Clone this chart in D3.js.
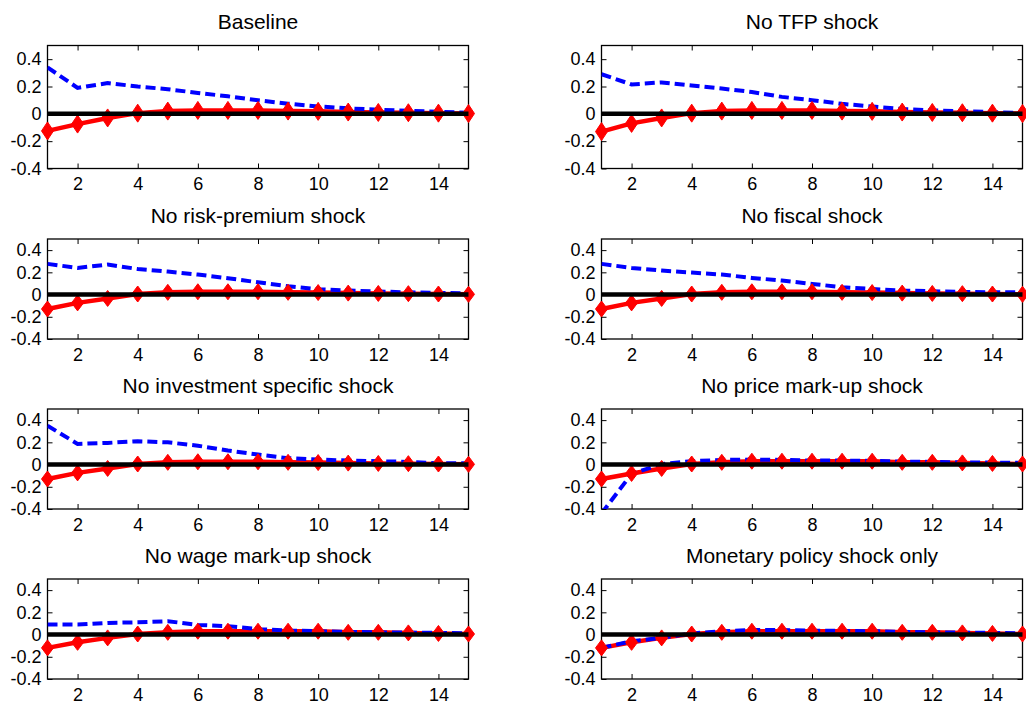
<!DOCTYPE html>
<html>
<head>
<meta charset="utf-8">
<script src="https://cdn.jsdelivr.net/npm/d3@7"></script>
<style>
  html, body { margin: 0; padding: 0; background: #fff; }
  svg { display: block; }
</style>
</head>
<body>
<svg id="chart" width="1026" height="706"></svg>
<script>
// ---------- data ----------
const periods = [1,2,3,4,5,6,7,8,9,10,11,12,13,14,15];
const xTicks = [2,4,6,8,10,12,14];
const yTicks = [-0.4,-0.2,0,0.2,0.4];
const titles = [
  "Baseline", "No TFP shock",
  "No risk-premium shock", "No fiscal shock",
  "No investment specific shock", "No price mark-up shock",
  "No wage mark-up shock", "Monetary policy shock only"
];

// red (solid, diamonds)
const redBaseline   = [-0.125,-0.075,-0.03,0.005,0.02,0.025,0.025,0.025,0.02,0.018,0.013,0.01,0.008,0.005,0.002];
const redNoTFP      = [-0.13,-0.07,-0.03,0.005,0.02,0.025,0.025,0.025,0.02,0.018,0.013,0.01,0.008,0.005,0.002];
const redNoRisk     = [-0.13,-0.075,-0.035,0.005,0.02,0.025,0.025,0.025,0.02,0.018,0.013,0.01,0.008,0.005,0.002];
const redNoFiscal   = [-0.13,-0.075,-0.035,0.005,0.02,0.025,0.025,0.025,0.02,0.018,0.013,0.01,0.008,0.005,0.002];
const redNoInvest   = [-0.13,-0.075,-0.035,0.005,0.02,0.025,0.025,0.025,0.02,0.018,0.013,0.01,0.008,0.005,0.002];
const redNoPrice    = [-0.13,-0.08,-0.035,0.005,0.02,0.03,0.03,0.03,0.03,0.03,0.02,0.02,0.015,0.01,0.005];
const redNoWage     = [-0.12,-0.07,-0.03,0.005,0.02,0.03,0.03,0.03,0.03,0.03,0.02,0.02,0.015,0.01,0.005];
const redMonetary   = [-0.12,-0.07,-0.03,0.005,0.02,0.03,0.03,0.03,0.03,0.03,0.02,0.02,0.015,0.01,0.005];

// blue (dashed)
const blueBaseline  = [0.34,0.19,0.225,0.2,0.18,0.153,0.128,0.099,0.074,0.054,0.04,0.03,0.022,0.015,0.008];
const blueNoTFP     = [0.29,0.215,0.23,0.207,0.185,0.16,0.124,0.1,0.073,0.054,0.035,0.025,0.02,0.012,0.006];
const blueNoRisk    = [0.276,0.24,0.27,0.23,0.207,0.18,0.147,0.11,0.075,0.048,0.036,0.027,0.02,0.015,0.012];
const blueNoFiscal  = [0.276,0.24,0.216,0.198,0.18,0.15,0.126,0.096,0.066,0.05,0.036,0.03,0.024,0.02,0.02];
const blueNoInvest  = [0.35,0.186,0.195,0.21,0.2,0.17,0.126,0.09,0.057,0.045,0.036,0.03,0.024,0.012,0.012];
const blueNoPrice   = [-0.44,-0.084,0.005,0.03,0.042,0.045,0.042,0.036,0.036,0.033,0.027,0.024,0.02,0.018,0.015];
const blueNoWage    = [0.09,0.09,0.105,0.11,0.12,0.087,0.075,0.05,0.036,0.03,0.024,0.02,0.018,0.015,0.012];
const blueMonetary  = [-0.12,-0.06,-0.03,0.01,0.03,0.04,0.04,0.035,0.033,0.03,0.025,0.02,0.018,0.015,0.012];

const redSeries  = [redBaseline, redNoTFP, redNoRisk, redNoFiscal, redNoInvest, redNoPrice, redNoWage, redMonetary];
const blueSeries = [blueBaseline, blueNoTFP, blueNoRisk, blueNoFiscal, blueNoInvest, blueNoPrice, blueNoWage, blueMonetary];

// ---------- layout ----------
const colX = [[47.5, 468.5], [601.5, 1022.5]];
const rowY = [[45.5, 168.5], [239, 339], [409, 509], [579, 679]];

const svg = d3.select("#chart");
const tickFont = "'Liberation Sans', Arial, sans-serif";
const titleFont = "'Liberation Sans', Arial, sans-serif";

titles.forEach((title, i) => {
  const col = i % 2, row = Math.floor(i / 2);
  const [x0, x1] = colX[col];
  const [y0, y1] = rowY[row];

  const x = d3.scaleLinear().domain([1, 15]).range([x0, x1]);
  const y = d3.scaleLinear().domain([-0.4, 0.5]).range([y1, y0]);

  const g = svg.append("g");
  const clipId = "clip" + i;
  g.append("clipPath").attr("id", clipId)
    .append("rect").attr("x", x0).attr("y", y0).attr("width", x1 - x0).attr("height", y1 - y0);

  // title
  g.append("text")
    .attr("x", (x0 + x1) / 2).attr("y", y0 - 16.5)
    .attr("text-anchor", "middle")
    .style("font-family", titleFont).style("font-size", "21px").attr("fill", "#000")
    .text(title);

  // axes (box with inward ticks)
  const tl = 5;
  const bottom = g.append("g").attr("transform", `translate(0,${y1})`)
    .call(d3.axisBottom(x).tickValues(xTicks).tickSizeInner(-tl).tickSizeOuter(0).tickPadding(9).tickFormat(d3.format("d")));
  const top = g.append("g").attr("transform", `translate(0,${y0})`)
    .call(d3.axisTop(x).tickValues(xTicks).tickSizeInner(-tl).tickSizeOuter(0).tickFormat(""));
  const left = g.append("g").attr("transform", `translate(${x0},0)`)
    .call(d3.axisLeft(y).tickValues(yTicks).tickSizeInner(-tl).tickSizeOuter(0).tickPadding(6)
      .tickFormat(d => d === 0 ? "0" : d3.format(".1f")(d).replace("−", "-")));
  const right = g.append("g").attr("transform", `translate(${x1},0)`)
    .call(d3.axisRight(y).tickValues(yTicks).tickSizeInner(-tl).tickSizeOuter(0).tickFormat(""));

  [bottom, top, left, right].forEach(a => {
    a.select(".domain").remove();
    a.selectAll("line").attr("stroke", "#000").attr("stroke-width", 1);
    a.selectAll("text").style("font-family", tickFont).style("font-size", "18px").attr("fill", "#000");
  });
  bottom.selectAll("text").attr("dy", "0.71em");

  // box
  g.append("rect").attr("x", x0).attr("y", y0).attr("width", x1 - x0).attr("height", y1 - y0)
    .attr("fill", "none").attr("stroke", "#000").attr("stroke-width", 1.3);

  const plot = g.append("g").attr("clip-path", `url(#${clipId})`);
  const line = d3.line().x((d, k) => x(periods[k])).y(d => y(d));

  // red solid line with diamonds
  plot.append("path").datum(redSeries[i]).attr("d", line)
    .attr("fill", "none").attr("stroke", "#ff0000").attr("stroke-width", 4.5).attr("stroke-linejoin", "round");
  const dw = 6, dh = row === 0 ? 9 : 8;
  g.append("g").selectAll("path").data(redSeries[i]).join("path")
    .attr("d", (d, k) => {
      const cx = x(periods[k]), cy = y(d);
      return `M${cx},${cy - dh}L${cx + dw},${cy}L${cx},${cy + dh}L${cx - dw},${cy}Z`;
    })
    .attr("fill", "#ff0000").attr("stroke", "#ff0000").attr("stroke-width", 1);

  // blue dashed
  plot.append("path").datum(blueSeries[i]).attr("d", line)
    .attr("fill", "none").attr("stroke", "#0000ff").attr("stroke-width", 4)
    .attr("stroke-dasharray", "10,5");

  // zero line
  g.append("line")
    .attr("x1", x(1)).attr("x2", x(15)).attr("y1", y(0)).attr("y2", y(0))
    .attr("stroke", "#000").attr("stroke-width", 4.5);
});
</script>
</body>
</html>
